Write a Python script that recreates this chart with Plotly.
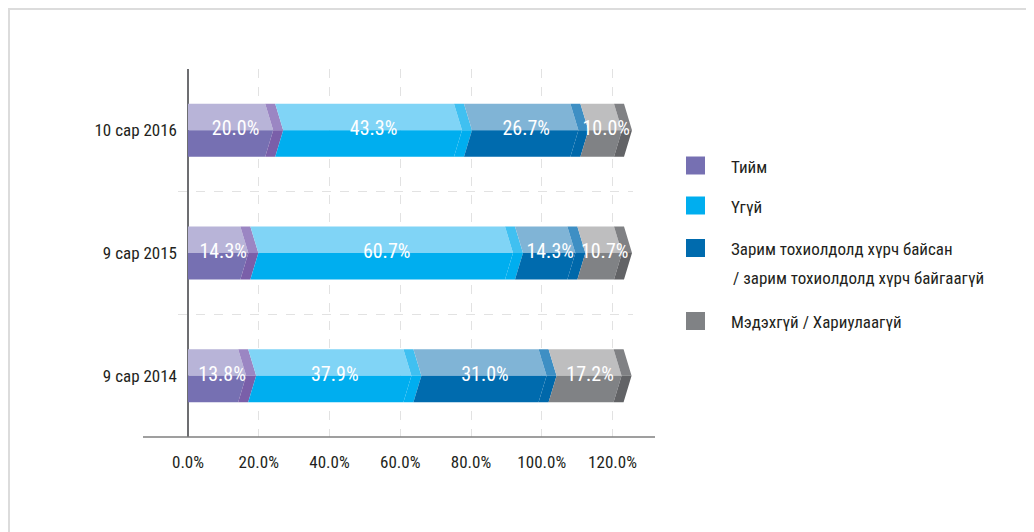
import plotly.graph_objects as go

# data
periods = ["9 сар 2014", "9 сар 2015", "10 сар 2016"]
tiim = [13.8, 14.3, 20.0]
ugui = [37.9, 60.7, 43.3]
zarim = [31.0, 14.3, 26.7]
medehgui = [17.2, 10.7, 10.0]
series_names = ["Тийм", "Үгүй", "Зарим тохиолдолд хүрч байсан", "Мэдэхгүй / Хариулаагүй"]
x_ticks = [0, 20, 40, 60, 80, 100, 120]
x_ticktext = ["0.0%", "20.0%", "40.0%", "60.0%", "80.0%", "100.0%", "120.0%"]

# style: (top main, top band, bottom main, bottom band, legend)
palette = [
    ("#b8b4d8", "#9b86c3", "#7670b2", "#7a5fa9", "#7670b2"),
    ("#80d4f6", "#40c0f1", "#00aeef", "#00aeef", "#00aeef"),
    ("#80b4d6", "#3e8fc4", "#006bae", "#0068aa", "#006bae"),
    ("#bebebf", "#808184", "#808285", "#626366", "#808285"),
]
FONT = "Roboto Condensed, Liberation Sans Narrow, DejaVu Sans Condensed, Roboto, sans-serif"
TXT = "#231f20"

OFF = 8  # page body margin
W, H = 1034 - OFF, 532 - OFF
L, R, T, B = 178 - OFF, 633 - OFF, 69 - OFF, 437 - OFF
px_per_vis = 3.5375   # visible axis px per %
px_per_bar = 4.36     # bar scale px per %
zero_px = 188 - OFF
tip = 8 / px_per_bar
band = 10 / px_per_bar
half = 0.216


def pxx(px):
    return (px - OFF - L) / (R - L)


def pxy(py):
    return (B - (py - OFF)) / (B - T)


fig = go.Figure()
# keeps the visible percentage axis in place
fig.add_trace(go.Scatter(x=[None], y=[None], mode="markers", hoverinfo="skip", showlegend=False))

polys = {k: ([], []) for k in range(16)}
lab_x, lab_y, lab_t = [], [], []
for i in range(len(periods)):
    vals = [tiim[i], ugui[i], zarim[i], medehgui[i]]
    s = 0.0
    for j, v in enumerate(vals):
        e = s + v
        notch = 0 if j == 0 else tip
        for h_i, sign in enumerate((1, -1)):
            yo = i + sign * half
            main = [(s, yo), (e - band, yo), (e - band + tip, i), (s + notch, i), (s, yo)]
            bnd = [(e - band, yo), (e, yo), (e + tip, i), (e - band + tip, i), (e - band, yo)]
            for k, pts in ((0, main), (1, bnd)):
                xs, ys = polys[j * 4 + h_i * 2 + k]
                xs += [p[0] for p in pts] + [None]
                ys += [p[1] for p in pts] + [None]
        lab_x.append((s + e + tip) / 2)
        lab_y.append(i)
        lab_t.append(f"{v:.1f}%")
        s = e

for j in range(4):
    for h_i in range(2):
        for k in range(2):
            xs, ys = polys[j * 4 + h_i * 2 + k]
            fig.add_trace(go.Scatter(
                x=xs, y=ys, xaxis="x2", mode="lines", fill="toself",
                fillcolor=palette[j][h_i * 2 + k], line=dict(width=0),
                hoverinfo="skip", showlegend=False))

fig.add_trace(go.Scatter(
    x=lab_x, y=lab_y, xaxis="x2", mode="text", text=lab_t,
    textfont=dict(family=FONT, size=20, color="white"),
    hoverinfo="skip", showlegend=False))

# legend built from annotations + swatches
legend_rows = [(165.5, [series_names[0]]), (205.5, [series_names[1]]),
               (248, [series_names[2], "/ зарим тохиолдолд хүрч байгаагүй"]),
               (321, [series_names[3]])]
shapes = []
annotations = []
for j, (cy, lines) in enumerate(legend_rows):
    shapes.append(dict(type="rect", xref="paper", yref="paper",
                       x0=pxx(686), x1=pxx(705), y0=pxy(cy + 9), y1=pxy(cy - 9),
                       fillcolor=palette[j][4], line=dict(width=0)))
    for n, line in enumerate(lines):
        annotations.append(dict(xref="paper", yref="paper", x=pxx(729 if n == 0 else 731),
                                y=pxy(cy + 1 + 29 * n), text=line, showarrow=False,
                                xanchor="left", yanchor="middle",
                                font=dict(family=FONT, size=17, color=TXT)))

# x axis baseline and outer frame
shapes.append(dict(type="line", xref="paper", yref="paper", x0=pxx(143), x1=pxx(655),
                   y0=0, y1=0, line=dict(color="#7f7f7f", width=1.5)))
shapes.append(dict(type="line", xref="paper", yref="paper", x0=pxx(OFF), x1=pxx(1034),
                   y0=pxy(OFF + 0.5), y1=pxy(OFF + 0.5), line=dict(color="#dcdcdc", width=3)))
shapes.append(dict(type="line", xref="paper", yref="paper", x0=pxx(OFF + 0.5), x1=pxx(OFF + 0.5),
                   y0=pxy(OFF), y1=pxy(532), line=dict(color="#dcdcdc", width=3)))

fig.update_layout(
    width=W, height=H,
    margin=dict(l=L, r=W - R, t=T, b=H - B),
    paper_bgcolor="white", plot_bgcolor="white",
    font=dict(family=FONT, size=17, color=TXT),
    xaxis=dict(range=[(L - zero_px) / px_per_vis, (R - zero_px) / px_per_vis],
               tickvals=x_ticks, ticktext=x_ticktext, automargin=False,
               showgrid=True, gridcolor="#e2e2e2", griddash="dash", gridwidth=1,
               zeroline=True, zerolinecolor="#6d6e71", zerolinewidth=2,
               showline=False, ticks="outside", ticklen=10, tickcolor="rgba(0,0,0,0)",
               tickfont=dict(family=FONT, size=17, color=TXT)),
    xaxis2=dict(overlaying="x", visible=False, automargin=False,
                range=[(L - zero_px) / px_per_bar, (R - zero_px) / px_per_bar]),
    yaxis=dict(range=[-0.5, 2.5], tickvals=[0, 1, 2], ticktext=periods,
               showgrid=False, zeroline=False, showline=False, ticks="",
               automargin=False,
               tickfont=dict(family=FONT, size=17, color=TXT),
               minor=dict(tickvals=[0.5, 1.5, 2.5], showgrid=True,
                          gridcolor="#e2e2e2", griddash="dash", gridwidth=1)),
    shapes=shapes, annotations=annotations,
    showlegend=False,
)

fig.write_html("out.html")
